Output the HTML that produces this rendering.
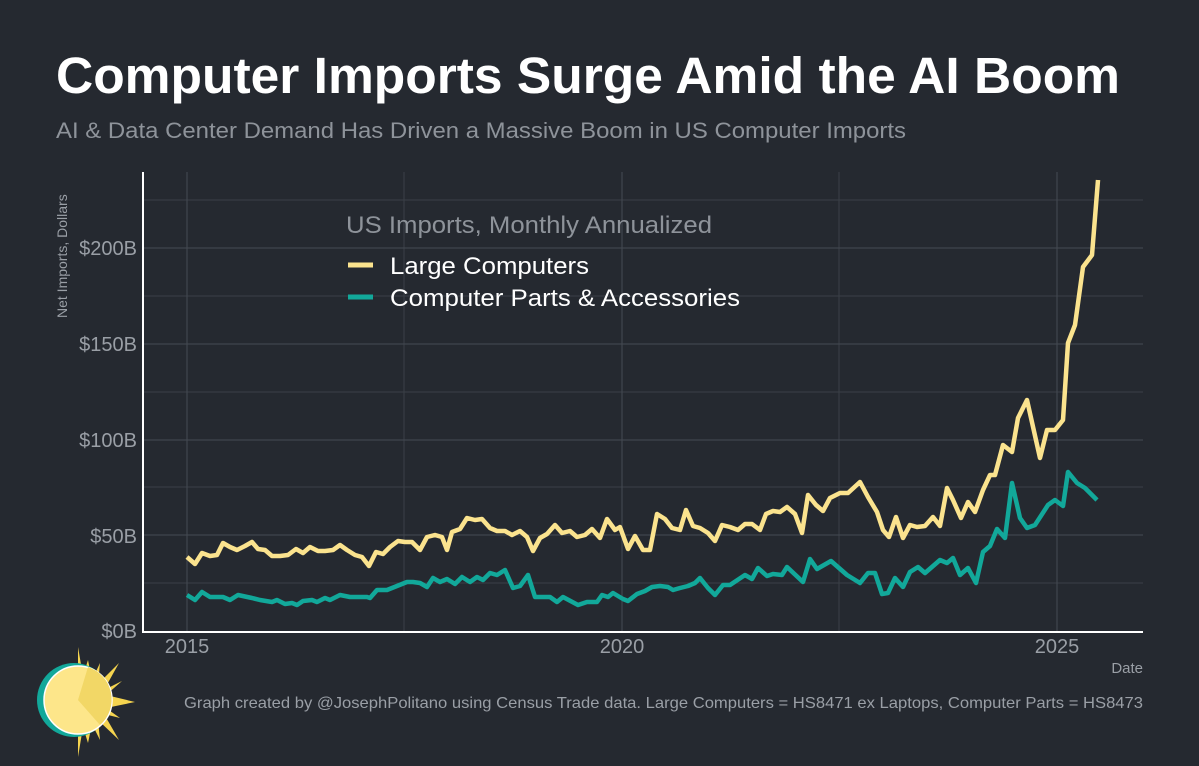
<!DOCTYPE html>
<html><head><meta charset="utf-8"><style>
html,body{margin:0;padding:0;background:#252930;}
svg{display:block;font-family:"Liberation Sans",sans-serif;}
</style></head><body>
<svg width="1199" height="766" viewBox="0 0 1199 766" xmlns="http://www.w3.org/2000/svg">
<rect width="1199" height="766" fill="#252930"/>
<text x="56" y="93" font-size="51" font-weight="bold" fill="#ffffff" textLength="1064" lengthAdjust="spacingAndGlyphs">Computer Imports Surge Amid the AI Boom</text>
<text x="56" y="138" font-size="22" fill="#8e939a" textLength="850" lengthAdjust="spacingAndGlyphs">AI &amp; Data Center Demand Has Driven a Massive Boom in US Computer Imports</text>
<g stroke="#3a3f47" stroke-width="1">
<line x1="143" x2="1143" y1="583" y2="583"/><line x1="143" x2="1143" y1="487" y2="487"/><line x1="143" x2="1143" y1="392" y2="392"/><line x1="143" x2="1143" y1="296" y2="296"/><line x1="143" x2="1143" y1="200" y2="200"/>
<line x1="404" x2="404" y1="172" y2="631"/><line x1="839" x2="839" y1="172" y2="631"/>
</g>
<g stroke="#454a53" stroke-width="1">
<line x1="143" x2="1143" y1="535" y2="535"/><line x1="143" x2="1143" y1="440" y2="440"/><line x1="143" x2="1143" y1="344" y2="344"/><line x1="143" x2="1143" y1="248" y2="248"/>
<line x1="187" x2="187" y1="172" y2="631"/><line x1="622" x2="622" y1="172" y2="631"/><line x1="1057" x2="1057" y1="172" y2="631"/>
</g>
<line x1="143" x2="143" y1="172" y2="632" stroke="#fff" stroke-width="2"/>
<line x1="142" x2="1143" y1="632" y2="632" stroke="#fff" stroke-width="2"/>
<g font-size="20" fill="#9a9fa6" text-anchor="end">
<text x="137" y="638">$0B</text><text x="137" y="543">$50B</text><text x="137" y="447">$100B</text><text x="137" y="351">$150B</text><text x="137" y="255">$200B</text>
</g>
<g font-size="20" fill="#9a9fa6" text-anchor="middle">
<text x="187" y="653">2015</text><text x="622" y="653">2020</text><text x="1057" y="653">2025</text>
</g>
<text x="1143" y="673" font-size="15" fill="#9a9fa6" text-anchor="end">Date</text>
<text transform="translate(67,318) rotate(-90)" font-size="14" fill="#9a9fa6">Net Imports, Dollars</text>
<text x="346" y="233" font-size="24" fill="#8e939a" textLength="366" lengthAdjust="spacingAndGlyphs">US Imports, Monthly Annualized</text>
<line x1="348" x2="373" y1="265" y2="265" stroke="#fbe38e" stroke-width="5"/>
<line x1="348" x2="373" y1="297" y2="297" stroke="#12a89a" stroke-width="5"/>
<text x="390" y="274" font-size="24" fill="#ffffff" textLength="199" lengthAdjust="spacingAndGlyphs">Large Computers</text>
<text x="390" y="306" font-size="24" fill="#ffffff" textLength="350" lengthAdjust="spacingAndGlyphs">Computer Parts &amp; Accessories</text>
<polyline fill="none" stroke="#12a89a" stroke-width="4.5" stroke-linejoin="round" points="187,595 195,600 202,592 210,597 223,597 230,600 238,595 252,598 260,600 272,602 277,600 285,604 292,603 297,605 303,601 312,600 317,602 325,598 330,600 340,595 350,597 367,597 370,598 377,590 387,590 397,586 407,582 413,582 420,583 427,587 433,578 440,582 447,579 455,584 462,577 470,582 477,577 483,580 490,573 497,575 505,570 513,588 520,586 528,575 535,597 550,597 557,602 563,597 578,605 587,602 597,602 602,595 608,597 613,593 623,599 628,601 637,594 645,591 652,587 660,586 668,587 673,590 680,588 688,586 695,583 700,578 708,588 715,595 723,585 730,585 745,575 752,579 758,568 767,576 773,574 782,575 787,567 803,582 810,559 817,569 831,561 847,575 860,583 868,573 875,573 882,594 888,593 895,578 903,587 910,572 918,567 925,573 940,560 947,563 953,558 960,575 968,568 976,583 983,552 990,546 997,529 1005,538 1012,483 1020,518 1027,528 1035,525 1048,505 1055,500 1063,506 1068,472 1077,483 1085,488 1097,500"/>
<polyline fill="none" stroke="#fbe38e" stroke-width="4.5" stroke-linejoin="round" points="187,557 195,564 202,553 210,556 217,555 223,543 230,547 237,550 245,546 252,542 258,549 265,550 272,556 280,556 288,555 296,549 303,553 310,547 318,551 325,551 333,550 340,545 347,550 355,555 362,557 369,566 376,552 383,554 390,547 398,541 405,542 412,542 420,550 427,537 435,535 442,537 447,550 452,532 460,529 467,518 475,520 482,519 490,528 497,531 505,531 512,535 520,531 527,537 533,551 540,538 547,534 555,525 562,533 570,531 577,537 585,535 592,529 600,538 607,519 615,530 620,527 628,549 635,536 643,550 650,550 657,514 665,519 672,528 680,530 686,510 693,526 700,528 708,533 715,541 722,525 730,527 738,530 745,524 752,524 760,530 766,514 773,511 780,512 787,507 795,514 802,533 808,495 816,505 823,511 830,498 840,493 848,493 860,482 868,497 877,512 883,530 889,537 896,517 903,538 910,525 917,527 925,526 933,517 940,526 947,488 953,500 961,518 968,502 975,512 983,490 990,475 995,475 1003,445 1012,452 1018,418 1027,400 1040,458 1047,430 1055,430 1063,420 1068,343 1075,325 1083,267 1092,255 1098,180"/>
<text x="1143" y="708" font-size="16" fill="#9a9fa6" text-anchor="end" textLength="959" lengthAdjust="spacingAndGlyphs">Graph created by @JosephPolitano using Census Trade data. Large Computers = HS8471 ex Laptops, Computer Parts = HS8473</text>
<g>
<polygon fill="#f5d44f" points="78,647 83,676 88,660 92,680 100,663 98,684 119,663 104,690 122,681 106,695 135,702 106,708 120,718 104,714 119,740 98,720 100,740 92,724 88,743 83,727 78,757"/>
<circle cx="74" cy="700" r="37" fill="#12a89a"/>
<circle cx="78" cy="700" r="34" fill="#fde68a" stroke="#fff" stroke-width="1.5"/>
<path d="M78,700 L88,667 A34,34 0 0 1 100,725 Z" fill="#f2d766"/>
</g>
</svg>
</body></html>
